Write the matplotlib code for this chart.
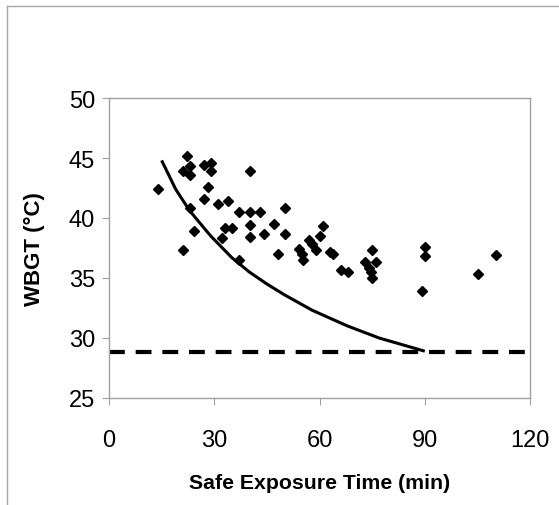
import matplotlib.pyplot as plt
from matplotlib.lines import Line2D

plt.rcParams['font.family'] = ['Liberation Sans', 'DejaVu Sans']

# measured exposure times (min) and WBGT (°C)
time_min = [14.1, 22.2, 23.1, 21.0, 23.2, 27.1, 29.2, 29.2, 28.1, 27.1,
            31.1, 34.0, 40.2, 23.1, 37.1, 40.2, 43.1, 50.3, 24.1, 33.0,
            35.2, 40.2, 46.9, 32.2, 40.2, 44.2, 50.1, 21.0, 37.1, 48.1,
            54.2, 54.9, 55.2, 57.1, 58.0, 59.1, 60.1, 61.1, 63.0, 63.8,
            66.1, 68.1, 72.9, 75.1, 76.2, 74.2, 74.6, 75.1, 90.0, 90.0,
            89.2, 105.2, 110.2]
wbgt = [42.4, 45.2, 44.3, 43.9, 43.6, 44.4, 44.6, 43.9, 42.6, 41.6,
        41.2, 41.4, 43.9, 40.8, 40.5, 40.5, 40.5, 40.8, 38.9, 39.2,
        39.2, 39.4, 39.5, 38.3, 38.4, 38.7, 38.7, 37.3, 36.5, 37.0,
        37.4, 37.0, 36.5, 38.2, 37.8, 37.3, 38.5, 39.3, 37.2, 37.0,
        35.7, 35.5, 36.3, 37.3, 36.3, 35.8, 35.5, 35.0, 37.6, 36.8,
        33.9, 35.3, 36.9]

# limit curve
curve_t = [15, 19, 23, 29, 35, 40, 45, 50, 58, 68, 77, 90]
curve_wbgt = [44.8, 42.4, 40.6, 38.5, 36.7, 35.5, 34.5, 33.6, 32.3, 31.0, 30.0, 28.9]

# threshold level
threshold = 28.8

fig = plt.figure(figsize=(5.59, 5.06), dpi=100)

# outer frame
frame_col = '#a8a8a8'
fig.add_artist(Line2D([7/559, 7/559], [0, 1 - 7/506], color=frame_col, lw=1.0))
fig.add_artist(Line2D([7/559, 1], [1 - 7/506, 1 - 7/506], color=frame_col, lw=1.0))

ax = fig.add_axes([109/559, 1 - 399/506, (530 - 109)/559, (399 - 99)/506])

ax.plot([0, 120], [threshold, threshold], color='black', lw=3, dashes=(3.8, 2.6))
ax.plot(curve_t, curve_wbgt, color='black', lw=2.2, solid_capstyle='butt')
ax.plot(time_min, wbgt, 'D', color='black', markersize=5.5, linestyle='none')

ax.set_xlim(0, 120)
ax.set_ylim(25, 50)
ax.set_xticks([0, 30, 60, 90, 120])
ax.set_yticks([25, 30, 35, 40, 45, 50])

for s in ax.spines.values():
    s.set_color('#a0a0a0')
    s.set_linewidth(1.0)

ax.tick_params(axis='both', direction='out', length=5, width=0.8, color='#a0a0a0',
               labelsize=17, pad=5)
ax.tick_params(axis='x', pad=17)

ax.set_xlabel('Safe Exposure Time (min)', fontsize=15.3, fontweight='bold', labelpad=16)
ax.set_ylabel('WBGT (°C)', fontsize=16, fontweight='bold', labelpad=17)

fig.savefig('out.png', dpi=100)
